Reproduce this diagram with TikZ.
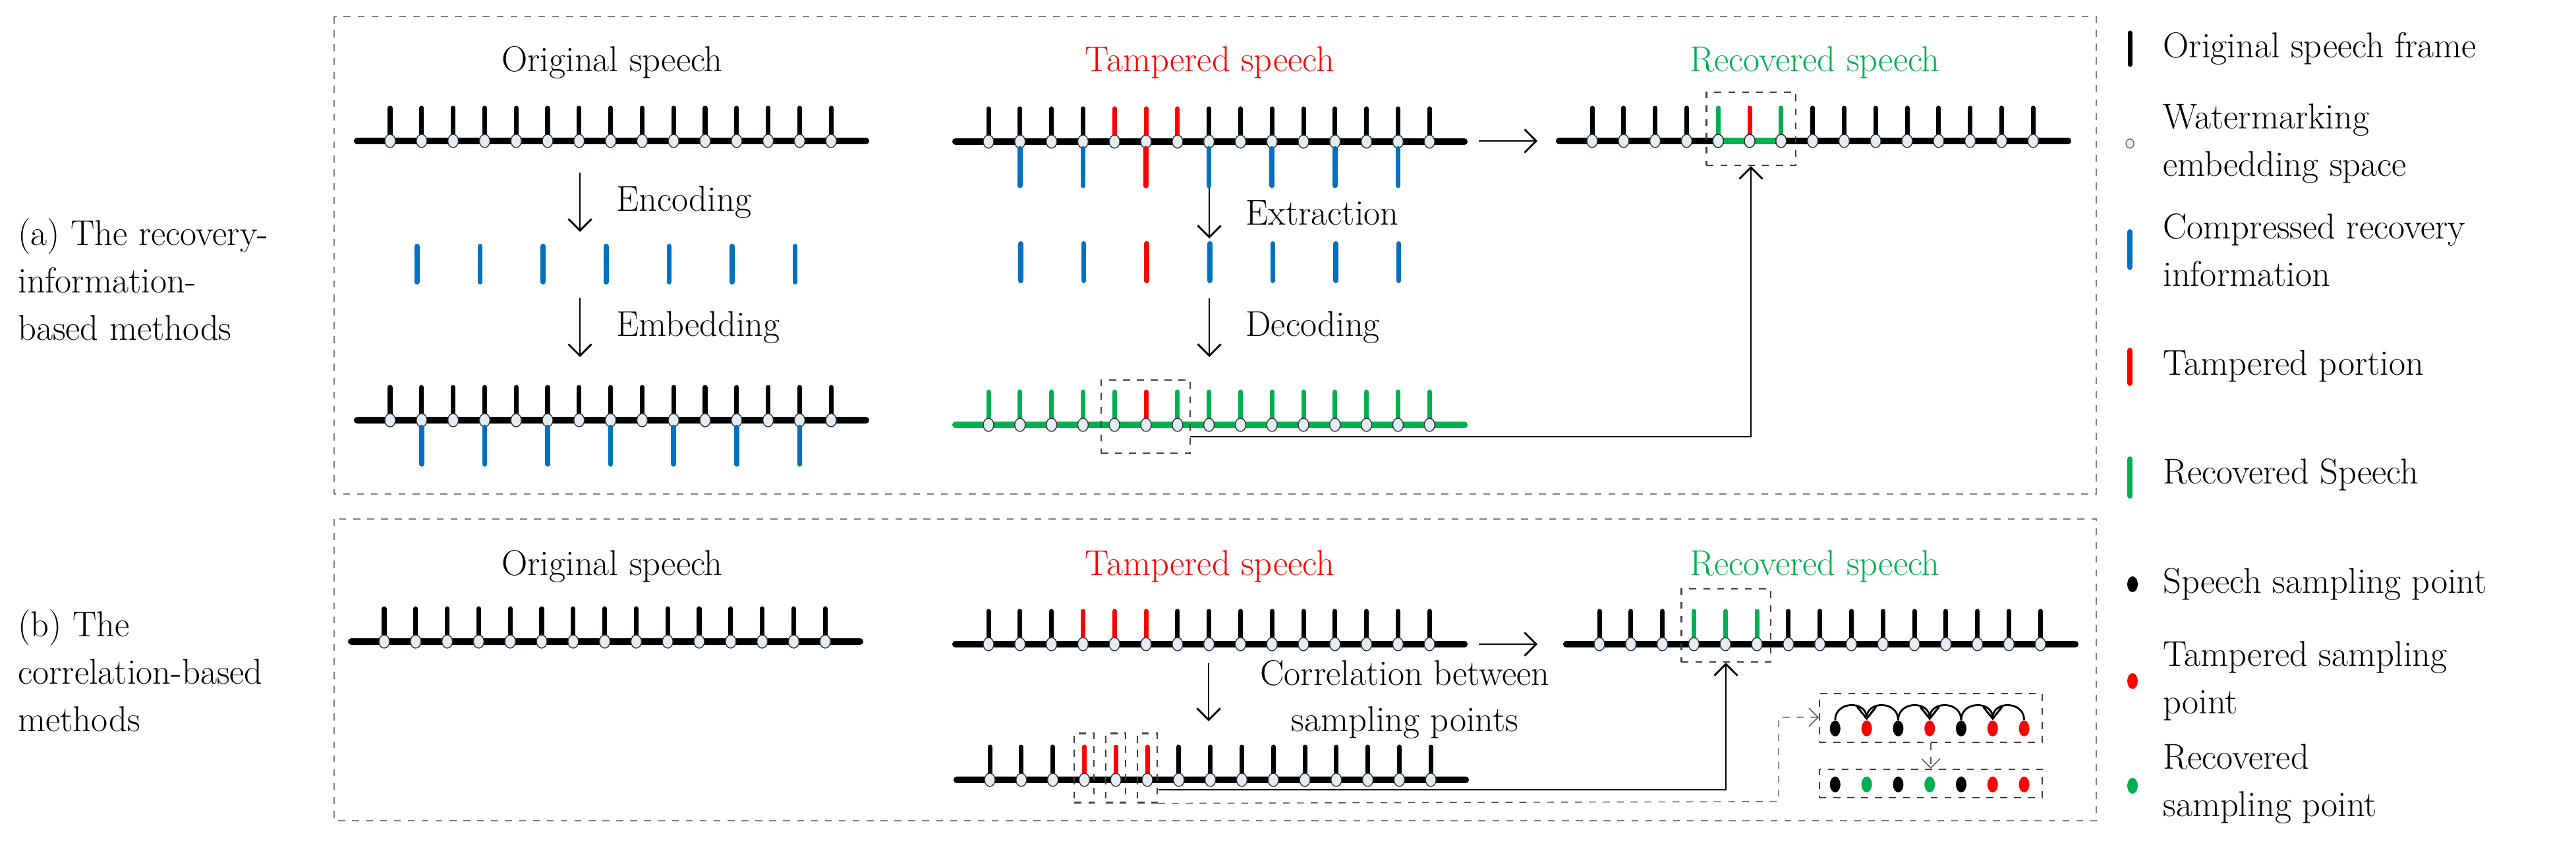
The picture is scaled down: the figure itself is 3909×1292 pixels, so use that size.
\documentclass[tikz,border=0pt]{standalone}
\usepackage{mathpazo}
\usetikzlibrary{arrows.meta,positioning,shapes.geometric}
\definecolor{wmblue}{HTML}{0070C0}
\definecolor{wmred}{HTML}{FF0000}
\definecolor{wmgreen}{HTML}{00B050}
\definecolor{slotfill}{HTML}{E4ECF6}
\definecolor{boxgray}{HTML}{7F7F7F}
\tikzset{
  axis/.style={line width=2.9pt, line cap=round},
  frame/.style={line width=2pt, line cap=round},
  slot/.style={ellipse, draw=black!80, fill=slotfill, line width=0.4pt, inner sep=0pt, minimum width=0.16cm, minimum height=0.2cm},
  bit/.style={line width=2.2pt, line cap=round, wmblue},
  panel/.style={draw=boxgray, dashed, line width=0.6pt},
  pick/.style={draw=black!75, dashed, line width=0.6pt},
  proc/.style={-{Straight Barb[length=5pt,width=10pt]}, line width=0.8pt},
  link/.style={-{Straight Barb[length=5pt,width=10pt]}, line width=0.8pt},
  thin link/.style={-{Straight Barb[length=4pt,width=8pt]}, dashed, draw=black!70, line width=0.4pt},
  title/.style={font=\fontsize{15.5}{18}\selectfont},
  lbl/.style={font=\fontsize{15.5}{20.5}\selectfont, align=left},
  dot/.style={ellipse, inner sep=0pt, minimum width=0.16cm, minimum height=0.24cm},
}
% one speech line: #1 axis colour, #2 name, #3 start x, #4 y, #5 frame colours
\newcommand\sprow[5][black]{%
  \draw[axis,#1] (#3,#4) -- ++(772,0);
  \foreach \c [count=\i from 0] in {#5} {
    \draw[frame,\c] (#3+50+47.8*\i,#4) -- ++(0,-50);
    \node[slot] (#2-\i) at (#3+50+47.8*\i,#4) {};
  }}

\begin{document}
\begin{tikzpicture}[x=0.01cm,y=-0.01cm]
  \useasboundingbox (0,0) rectangle (3909,1292);
  % Panels
  \draw[panel] (507,25) rectangle (3181,750);
  \draw[panel] (507,788) rectangle (3181,1246);
  \node[lbl, anchor=west] (labela) at (15,424) {(a) The recovery-\\information-\\based methods};
  \node[lbl, anchor=west] (labelb) at (15,1018) {(b) The\\correlation-based\\methods};

  % (a) recovery-information-based
  \node[title] (origa) at (929,95) {Original speech};
  \node[title, wmred] (tampa) at (1836,95) {Tampered speech};
  \node[title, wmgreen] (reca) at (2754,95) {Recovered speech};

  \sprow{oa}{542}{214}{black,black,black,black,black,black,black,black,black,black,black,black,black,black,black}
  \node[coordinate] (enc1) at (880,262) {};
  \node[coordinate] (enc2) at (880,352) {};
  \draw[proc] (enc1) -- (enc2) node[title, midway, right=12pt] {Encoding};
  \foreach \i in {0,...,6} \draw[bit] (633+95.6*\i,374) -- ++(0,54);
  \node[coordinate] (emb1) at (880,452) {};
  \node[coordinate] (emb2) at (880,542) {};
  \draw[proc] (emb1) -- (emb2) node[title, midway, right=12pt] {Embedding};
  \sprow{ea}{542}{638}{black,black,black,black,black,black,black,black,black,black,black,black,black,black,black}
  \foreach \i in {1,3,...,13} \draw[bit] (ea-\i.south) -- ++(0,56);

  \sprow{ta}{1450}{215}{black,black,black,black,wmred,wmred,wmred,black,black,black,black,black,black,black,black}
  \foreach \i in {1,3,...,13} \draw[bit] (ta-\i.south) -- ++(0,56);
  \draw[bit,wmred] (ta-5.south) -- ++(0,56);
  \node[coordinate] (ext1) at (1835,285) {};
  \node[coordinate] (ext2) at (1835,362) {};
  \draw[proc] (ext1) -- (ext2) node[title, midway, right=12pt] {Extraction};
  \foreach \i in {0,...,6} \draw[bit] (1549+95.6*\i,370) -- ++(0,56);
  \draw[bit,wmred] (1740,370) -- ++(0,56);
  \node[coordinate] (dec1) at (1835,453) {};
  \node[coordinate] (dec2) at (1835,542) {};
  \draw[proc] (dec1) -- (dec2) node[title, midway, right=12pt] {Decoding};
  \sprow[wmgreen]{da}{1450}{645}{wmgreen,wmgreen,wmgreen,wmgreen,wmgreen,wmred,wmgreen,wmgreen,wmgreen,wmgreen,wmgreen,wmgreen,wmgreen,wmgreen,wmgreen}
  \node[pick, minimum width=1.35cm, minimum height=1.11cm, inner sep=0pt] (dpick) at (1738.5,632.5) {};

  \node[coordinate] (aend) at (2244,214) {};
  \node[coordinate] (astart) at (2333,214) {};
  \draw[link] (aend) -- (astart);
  \sprow{ra}{2366}{214}{black,black,black,black,wmgreen,wmred,wmgreen,black,black,black,black,black,black,black,black}
  \draw[axis,wmgreen,line cap=butt] (ra-4) -- (ra-6);
  \foreach \i in {4,5,6} \node[slot] at (ra-\i) {};
  \node[pick, minimum width=1.35cm, minimum height=1.11cm, inner sep=0pt] (rpick) at (2657,195.5) {};
  \node[coordinate] (aline) at (1806,663) {};
  \node[coordinate] (acorner) at (rpick.south |- aline) {};
  \draw[link] (aline) -- (acorner) -- (rpick.south);

  % (b) correlation-based
  \node[title] (origb) at (929,860) {Original speech};
  \node[title, wmred] (tampb) at (1836,860) {Tampered speech};
  \node[title, wmgreen] (recb) at (2754,860) {Recovered speech};
  \sprow{ob}{533}{974}{black,black,black,black,black,black,black,black,black,black,black,black,black,black,black}
  \sprow{tb}{1450}{978}{black,black,black,wmred,wmred,wmred,black,black,black,black,black,black,black,black,black}
  \node[coordinate] (cor1) at (1834,1007) {};
  \node[coordinate] (cor2) at (1834,1095) {};
  \draw[proc] (cor1) -- (cor2);
  \node[title, align=center] (corlbl) at (2132,1062) {Correlation between\\[2pt]sampling points};
  \sprow{cb}{1452}{1184}{black,black,black,wmred,wmred,wmred,black,black,black,black,black,black,black,black,black}
  \foreach \i in {3,4,5}
    \node[pick, minimum width=0.3cm, minimum height=1.05cm, inner sep=0pt] (cpick-\i) at (1502+47.8*\i,1166) {};

  \node[coordinate] (bend) at (2244,978) {};
  \node[coordinate] (bstart) at (2333,978) {};
  \draw[link] (bend) -- (bstart);
  \sprow{rb}{2377}{978}{black,black,black,wmgreen,wmgreen,wmgreen,black,black,black,black,black,black,black,black,black}
  \node[pick, minimum width=1.35cm, minimum height=1.11cm, inner sep=0pt] (rbpick) at (2619,949.5) {};
  \node[coordinate] (bline) at (1758,1199) {};
  \node[coordinate] (bcorner) at (rbpick.south |- bline) {};
  \draw[link] (bline) -- (bcorner) -- (rbpick.south);

  % sampling points
  \node[pick, minimum width=3.38cm, minimum height=0.74cm, inner sep=0pt] (sbox1) at (2930,1090) {};
  \node[pick, minimum width=3.38cm, minimum height=0.43cm, inner sep=0pt] (sbox2) at (2930,1189.5) {};
  \foreach \c [count=\i] in {black,wmred,black,wmred,black,wmred,wmred}
    \node[dot, fill=\c] (sa-\i) at (2737+47.8*\i,1106) {};
  \foreach \c [count=\i] in {black,wmgreen,black,wmgreen,black,wmred,wmred}
    \node[dot, fill=\c] (sb-\i) at (2737+47.8*\i,1191) {};
  \foreach \a/\b in {1/2,3/2,3/4,5/4,5/6,7/6}
    \draw[-{Straight Barb[length=5pt,width=8pt]}, line width=0.8pt] (sa-\a.north) to[out=90, in=90, looseness=1.6] (sa-\b.north);
  \node[coordinate] (scorner1) at (2699,1217) {};
  \node[coordinate] (scorner2) at (2699,1089) {};
  \draw[thin link] (cpick-5.south east) -- (scorner1) -- (scorner2) -- (sbox1.west |- scorner2);
  \draw[thin link] (sbox1.south) -- (sbox2.north);

  % Legend
  \draw[frame] (3232,50) -- ++(0,48);
  \node[lbl, anchor=west] (leg1) at (3270,74) {Original speech frame};
  \node[slot, minimum width=0.12cm, minimum height=0.14cm, draw=black!60] (leg2s) at (3232,218) {};
  \node[lbl, anchor=west] (leg2) at (3270,218) {Watermarking\\embedding space};
  \draw[bit] (3232,352) -- ++(0,54);
  \node[lbl, anchor=west] (leg3) at (3270,380) {Compressed recovery\\information};
  \draw[frame,wmred,line width=2.2pt] (3232,532) -- ++(0,50);
  \node[lbl, anchor=west] (leg4) at (3270,556) {Tampered portion};
  \draw[frame,wmgreen,line width=2.2pt] (3232,697) -- ++(0,56);
  \node[lbl, anchor=west] (leg5) at (3270,721) {Recovered Speech};
  \node[dot, fill=black] (leg6s) at (3236,887) {};
  \node[lbl, anchor=west] (leg6) at (3270,887) {Speech sampling point};
  \node[dot, fill=wmred] (leg7s) at (3236,1034) {};
  \node[lbl, anchor=west] (leg7) at (3270,1034) {Tampered sampling\\point};
  \node[dot, fill=wmgreen] (leg8s) at (3236,1193) {};
  \node[lbl, anchor=west] (leg8) at (3270,1190) {Recovered\\sampling point};
\end{tikzpicture}
\end{document}
